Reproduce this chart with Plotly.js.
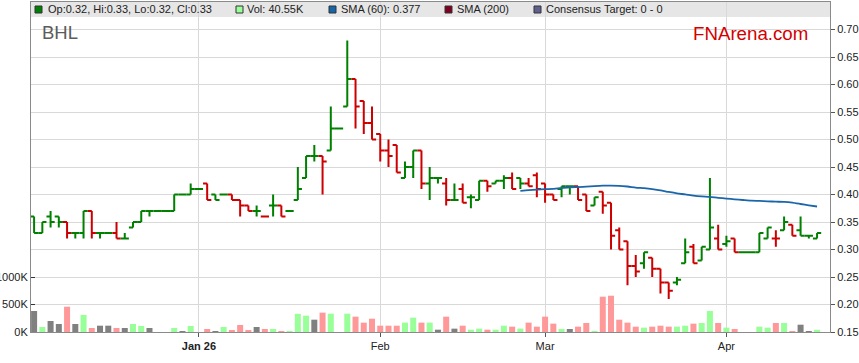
<!DOCTYPE html>
<html><head><meta charset="utf-8">
<script src="https://cdn.plot.ly/plotly-3.0.1.min.js"></script>
<style>html,body{margin:0;padding:0;background:#fff;}#chart{width:859px;height:363px;}</style>
</head><body><div id="chart"></div>
<script>
const ticker = 'BHL';
const siteLabel = 'FNArena.com';
const dates = [
 '2025-12-04','2025-12-05','2025-12-08','2025-12-09','2025-12-10','2025-12-11','2025-12-12','2025-12-15','2025-12-16','2025-12-17',
 '2025-12-18','2025-12-19','2025-12-22','2025-12-23','2025-12-24','2025-12-25','2025-12-26','2025-12-29','2025-12-30','2025-12-31',
 '2026-01-01','2026-01-02','2026-01-05','2026-01-06','2026-01-07','2026-01-08','2026-01-09','2026-01-12','2026-01-13','2026-01-14',
 '2026-01-15','2026-01-16','2026-01-19','2026-01-20','2026-01-21','2026-01-22','2026-01-23','2026-01-26','2026-01-27','2026-01-28',
 '2026-01-29','2026-01-30','2026-02-02','2026-02-03','2026-02-04','2026-02-05','2026-02-06','2026-02-09','2026-02-10','2026-02-11',
 '2026-02-12','2026-02-13','2026-02-16','2026-02-17','2026-02-18','2026-02-19','2026-02-20','2026-02-23','2026-02-24','2026-02-25',
 '2026-02-26','2026-02-27','2026-03-02','2026-03-03','2026-03-04','2026-03-05','2026-03-06','2026-03-09','2026-03-10','2026-03-11',
 '2026-03-12','2026-03-13','2026-03-16','2026-03-17','2026-03-18','2026-03-19','2026-03-20','2026-03-23','2026-03-24','2026-03-25',
 '2026-03-26','2026-03-27','2026-03-30','2026-03-31','2026-04-01','2026-04-02','2026-04-03','2026-04-06','2026-04-07','2026-04-08',
 '2026-04-09','2026-04-10','2026-04-13','2026-04-14','2026-04-15','2026-04-16'];
const open = [
 .36,.33,.36,.36,.35,.33,.33,.37,.33,.33, .33,.32,.34,.35,.37,.37,.37,.37,.40,.40,
 .41,.42,.40,.40,.40,.39,.38,.37,.36,.38, .38,.37,.39,.43,.47,.47,.48,.52,.56,.61,
 .57,.53,.51,.48,.49,.43,.45,.48,.42,.43, .42,.39,.41,.395,.39,.425,.42,.425,.43,.43,
 .42,.435,.42,.40,.41,.415,.415,.40,.38,.405, .385,.335,.315,.27,.275,.285,.265,.24,.24,.275,
 .305,.28,.30,.32,.31,.32,.295,.295,.295,.32, .32,.335,.345,.335,.325,.32];
const high = [
 .36,.35,.37,.36,.35,.33,.37,.37,.33,.33, .35,.33,.35,.37,.37,.37,.37,.40,.40,.42,
 .41,.42,.40,.40,.40,.39,.38,.38,.36,.40, .38,.37,.45,.47,.49,.47,.56,.52,.68,.61,
 .57,.56,.51,.50,.49,.46,.48,.48,.45,.43, .43,.42,.42,.40,.425,.425,.425,.435,.44,.43,
 .43,.44,.42,.40,.415,.415,.415,.40,.395,.405, .385,.34,.315,.29,.295,.285,.265,.24,.25,.32,
 .31,.305,.43,.345,.325,.32,.295,.295,.33,.34, .335,.36,.345,.36,.325,.33];
const low = [
 .33,.33,.34,.34,.32,.32,.32,.32,.32,.33, .32,.32,.34,.35,.36,.37,.37,.37,.40,.40,
 .41,.39,.39,.40,.39,.36,.37,.36,.36,.36, .36,.37,.39,.43,.46,.40,.48,.52,.56,.52,
 .51,.50,.46,.45,.44,.43,.43,.41,.39,.42, .38,.39,.385,.375,.39,.405,.42,.41,.41,.41,
 .415,.395,.385,.39,.395,.40,.39,.37,.38,.365, .30,.30,.235,.25,.265,.25,.22,.21,.235,.275,
 .275,.28,.30,.30,.305,.295,.295,.295,.295,.32, .305,.335,.325,.325,.32,.32];
const close = [
 .33,.35,.35,.35,.33,.33,.37,.33,.33,.33, .32,.32,.35,.37,.37,.37,.37,.40,.40,.41,
 .41,.39,.39,.40,.39,.38,.37,.37,.36,.38, .36,.37,.41,.47,.47,.46,.52,.52,.61,.56,
 .53,.50,.48,.47,.44,.45,.48,.42,.43,.43, .39,.39,.385,.395,.425,.415,.425,.43,.41,.42,
 .415,.41,.40,.39,.415,.415,.39,.37,.395,.38, .325,.30,.27,.26,.295,.265,.24,.225,.245,.295,
 .275,.305,.34,.30,.315,.295,.295,.295,.33,.34, .32,.35,.325,.325,.325,.33];
const volumeK = [
 382,91,200,145,460,145,310,73,115,115, 73,73,145,110,73,0,0,73,18,110,
 0,55,18,91,36,127,36,91,55,55, 18,18,330,297,224,352,333,0,333,279,
 170,242,115,115,115,170,261,170,170,42, 279,61,115,42,61,42,42,115,97,61,
 170,97,279,152,55,55,97,164,18,642, 660,224,170,97,79,97,115,97,97,115,
 152,164,382,164,79,55,0,0,97,79, 164,164,18,133,18,40.55];
const monthTickDates = ['2026-01-01','2026-02-02','2026-03-02','2026-04-01'];
const monthTickText = ['<b>Jan 26</b>','Feb','Mar','Apr'];
const priceTicks = [0.15,0.20,0.25,0.30,0.35,0.40,0.45,0.50,0.55,0.60,0.65,0.70];
const volumeTicksK = [0,500,1000];
const volumeTickText = ['0K','500K','1000K'];
const smaPeriod = 60;
const smaLegendValue = '0.377';
const legendNames = ['Vol: ', 'SMA (60): ', 'SMA (200)', 'Consensus Target: 0 - 0'];

// layout constants (pixels)
const L = 31, R = 830, T = 2, B = 332;
const px = x => (x - L) / (R - L);
const py = y => (B - y) / (B - T);

const UP = '#008000', DOWN = '#cc0000';
const VUP = '#99ff99', VDOWN = '#ff9999', VFLAT = '#808080';

// split bars by close vs previous close
const up = {x:[],o:[],h:[],l:[],c:[]}, dn = {x:[],o:[],h:[],l:[],c:[]};
const volColors = [];
for (let i = 0; i < dates.length; i++) {
  const prev = i > 0 ? close[i-1] : null;
  const target = (prev !== null && close[i] < prev - 1e-9) ? dn : up;
  target.x.push(dates[i]); target.o.push(open[i]); target.h.push(high[i]); target.l.push(low[i]); target.c.push(close[i]);
  if (prev === null || Math.abs(close[i]-prev) < 1e-9) volColors.push(VFLAT);
  else volColors.push(close[i] > prev ? VUP : VDOWN);
}
const sma = close.map((c, i) => {
  if (i < smaPeriod - 1) return null;
  let s = 0; for (let k = i - smaPeriod + 1; k <= i; k++) s += close[k];
  return s / smaPeriod;
});

function ohlcTrace(d, color) {
  return {type:'ohlc', x:d.x, open:d.o, high:d.h, low:d.l, close:d.c, xaxis:'x', yaxis:'y',
    increasing:{line:{color:color, width:2}}, decreasing:{line:{color:color, width:2}},
    tickwidth:0.5, showlegend:false, hoverinfo:'skip'};
}

const traces = [
  {type:'bar', x:dates, y:volumeK, yaxis:'y2', marker:{color:volColors, line:{width:0}}, width:0.73, showlegend:false, hoverinfo:'skip'},
  ohlcTrace(up, UP),
  ohlcTrace(dn, DOWN),
  {type:'scatter', mode:'lines', x:dates, y:sma, yaxis:'y', line:{color:'#1b66aa', width:1.8, shape:'spline', smoothing:0.6}, connectgaps:false, showlegend:false, hoverinfo:'skip'}
];

const n = dates.length;
const last = n - 1;
const fnt = {family:'"Liberation Sans", Arial, sans-serif', size:11, color:'#222'};
const legendTexts = [
  'Op:' + open[last].toFixed(2) + ', Hi:' + high[last].toFixed(2) + ', Lo:' + low[last].toFixed(2) + ', Cl:' + close[last].toFixed(2),
  legendNames[0] + volumeK[last].toFixed(2) + 'K',
  legendNames[1] + smaLegendValue,
  legendNames[2],
  legendNames[3]
];
const legendSquareX = [35, 236, 329, 445, 534];
const legendTextX = [46.5, 246, 339.5, 455.5, 544.5];
const legendColors = ['#008000', '#99ff99', '#1565a8', '#800020', '#606090'];

const shapes = [
  {type:'rect', xref:'paper', yref:'paper', x0:0, x1:1, y0:py(17), y1:1, fillcolor:'#e6e6e6', line:{width:0}, layer:'below'}
];
legendSquareX.forEach((sx, k) => {
  shapes.push({type:'rect', xref:'paper', yref:'paper', x0:px(sx), x1:px(sx+7), y0:py(13), y1:py(6),
    fillcolor:legendColors[k], line:{color:'#333', width:1}, layer:'above'});
});
const annotations = legendTexts.map((t, k) => ({xref:'paper', yref:'paper', x:px(legendTextX[k]), y:py(9.5),
  xanchor:'left', yanchor:'middle', text:t, showarrow:false, font:fnt, borderpad:0}));
annotations.push({xref:'paper', yref:'paper', x:px(41), y:py(32.5), xanchor:'left', yanchor:'middle', text:ticker,
  showarrow:false, borderpad:0, font:{family:'"Liberation Sans", Arial, sans-serif', size:18.5, color:'#5c5c5c'}});
annotations.push({xref:'paper', yref:'paper', x:px(809), y:py(33), xanchor:'right', yanchor:'middle', text:siteLabel,
  showarrow:false, borderpad:0, font:{family:'"Liberation Sans", Arial, sans-serif', size:18.7, color:'#d40000'}});

const layout = {
  width:859, height:363,
  margin:{l:L, r:859-R, t:T, b:363-B, pad:0},
  paper_bgcolor:'#ffffff', plot_bgcolor:'rgba(0,0,0,0)',
  font:fnt,
  showlegend:false,
  xaxis:{type:'category', categoryorder:'array', categoryarray:dates,
    range:[-0.376, 96.57], rangeslider:{visible:false},
    tickmode:'array', tickvals:monthTickDates, ticktext:monthTickText,
    showgrid:true, gridcolor:'#d9d9d9', gridwidth:1,
    showline:true, linecolor:'#8a8a8a', linewidth:1, mirror:true,
    ticks:'outside', ticklen:4, tickcolor:'#555', tickfont:fnt, zeroline:false, fixedrange:true},
  yaxis:{side:'right', range:[0.15, 0.75], tickmode:'array', tickvals:priceTicks,
    ticktext:priceTicks.map(v => v.toFixed(2)),
    showgrid:true, gridcolor:'#d9d9d9', gridwidth:1, zeroline:false,
    showline:true, linecolor:'#8a8a8a', linewidth:1,
    ticks:'outside', ticklen:4, tickcolor:'#555', tickfont:fnt, fixedrange:true},
  yaxis2:{side:'left', overlaying:'y', range:[0, 6000], tickmode:'array', tickvals:volumeTicksK, ticktext:volumeTickText,
    showgrid:false, zeroline:false, showline:true, linecolor:'#8a8a8a', linewidth:1,
    ticks:'inside', ticklen:4, tickcolor:'#333', tickfont:fnt, fixedrange:true},
  shapes:shapes,
  annotations:annotations
};

Plotly.newPlot('chart', traces, layout, {staticPlot:true, displayModeBar:false});
</script>
</body></html>
